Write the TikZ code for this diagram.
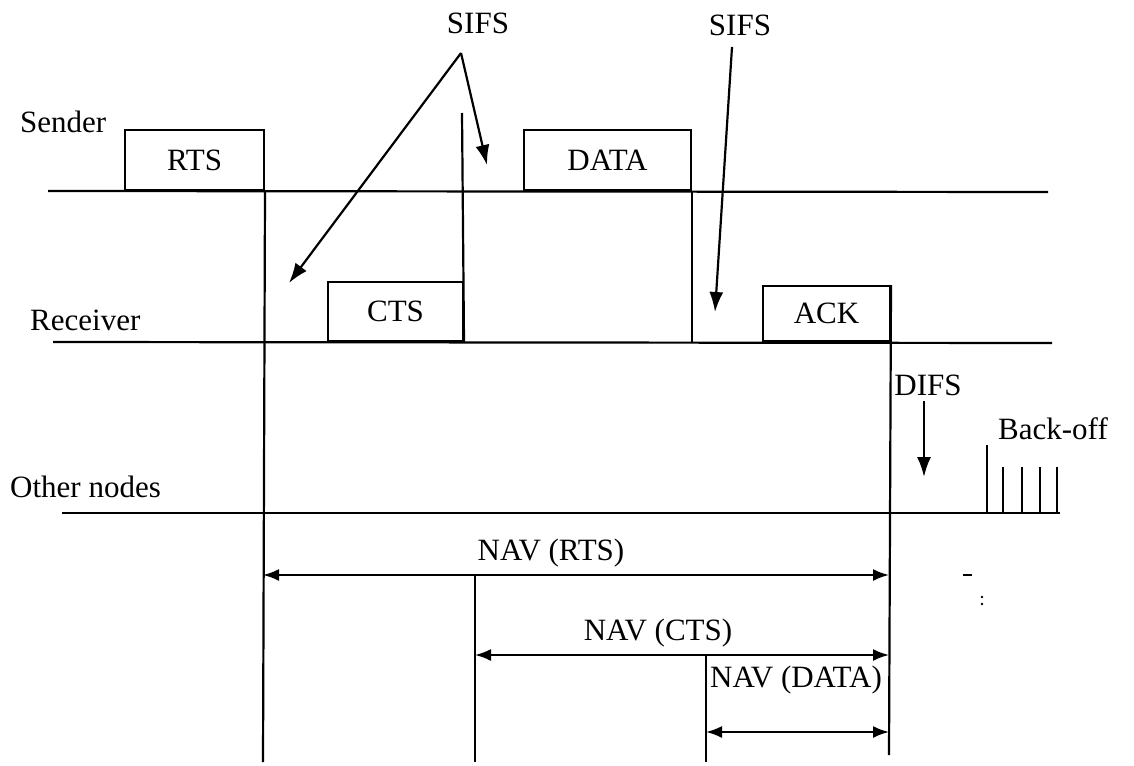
\documentclass[tikz,border=0pt]{standalone}
\usepackage{fontspec}
\setmainfont{Liberation Serif}
\usetikzlibrary{arrows.meta}
\begin{document}
\begin{tikzpicture}[x=1pt,y=-1pt,
  every node/.style={font=\fontsize{31}{36}\selectfont, inner sep=0pt},
  tline/.style={line width=2.2pt},
  vline/.style={line width=2.2pt},
  pkt/.style={draw, line width=2pt, anchor=south west},
  lbl/.style={anchor=west},
  arr/.style={line width=2.2pt, -{Latex[length=20pt,width=14pt]}},
  nav/.style={line width=2pt, {Latex[length=16pt,width=12pt]}-{Latex[length=16pt,width=12pt]}},
  tick/.style={line width=2.2pt},
]
\useasboundingbox (0,0) rectangle (1134,765);

% labels
\node[lbl] (sender) at (20,122) {Sender};
\node[lbl] (receiver) at (30,320) {Receiver};
\node[lbl] (other) at (10,487) {Other nodes};

% time lines
\coordinate (s0) at (48,191);
\coordinate (s1) at (1048,192);
\coordinate (r0) at (53,342);
\coordinate (r1) at (1052,343);
\coordinate (o0) at (62,513);
\coordinate (o1) at (1060,513);
\draw[tline] (s0) -- (s1);
\draw[tline] (r0) -- (r1);
\draw[tline] (o0) -- (o1);

% packets
\node[pkt, minimum width=139pt, minimum height=60pt] (rts) at (124,191) {RTS};
\node[pkt, minimum width=167pt, minimum height=60pt] (data) at (523,191) {DATA};
\node[pkt, minimum width=135pt, minimum height=59pt] (cts) at (327,342) {CTS};
\node[pkt, minimum width=127pt, minimum height=55pt] (ack) at (762,342) {ACK};

% vertical lines
\coordinate (rtsbot) at (263,762);
\coordinate (ctstop) at (462,113);
\coordinate (ackbot) at (889,755);
\draw[vline] (rts.south east) -- (rtsbot);
\draw[vline] (cts.south east) -- (ctstop);
\draw[vline] (data.south east) -- (data.south east |- cts.south);
\draw[vline] (ack.north east) -- (ackbot);

% SIFS annotations
\node (sifs1) at (478,23) {SIFS};
\node (sifs2) at (740,25) {SIFS};
\coordinate (apex) at (461,53);
\coordinate (tipA) at (289,283);
\coordinate (tipB) at (487,165);
\coordinate (s2start) at (732,47);
\coordinate (tipC) at (715,312);
\draw[arr] (apex) -- (tipA);
\draw[arr] (apex) -- (tipB);
\draw[arr] (s2start) -- (tipC);

% DIFS and back-off
\node (difs) at (928,385) {DIFS};
\coordinate (difsA) at (924,401);
\coordinate (difsB) at (924,477);
\draw[arr] (difsA) -- (difsB);
\node (backoff) at (1053,429) {Back-off};
\draw[tick] (987,445) -- (987,513);
\foreach \x in {1003,1022,1040,1057} \draw[tick] (\x,467) -- (\x,513);

% NAV
\coordinate (navR0) at (263,575);
\coordinate (navR1) at (889,575);
\coordinate (navC0) at (475,655);
\coordinate (navC1) at (889,655);
\coordinate (navD0) at (706,732);
\coordinate (navD1) at (889,732);
\coordinate (c475bot) at (475,762);
\coordinate (c706bot) at (706,762);
\draw[vline] (navR0 -| navC0) -- (c475bot);
\draw[vline] (navC1 -| navD0) -- (c706bot);
\draw[nav] (navR0) -- (navR1);
\draw[nav] (navC0) -- (navC1);
\draw[nav] (navD0) -- (navD1);
\node (navrts) at (551,553) {NAV (RTS)};
\node (navcts) at (658,633) {NAV (CTS)};
\node (navdata) at (796,680) {NAV (DATA)};

% stray marks
\draw[line width=1.4pt] (963,575) -- (972,575);
\fill (982,597) circle (1.3pt);
\fill (982,604) circle (1.3pt);
\end{tikzpicture}
\end{document}
